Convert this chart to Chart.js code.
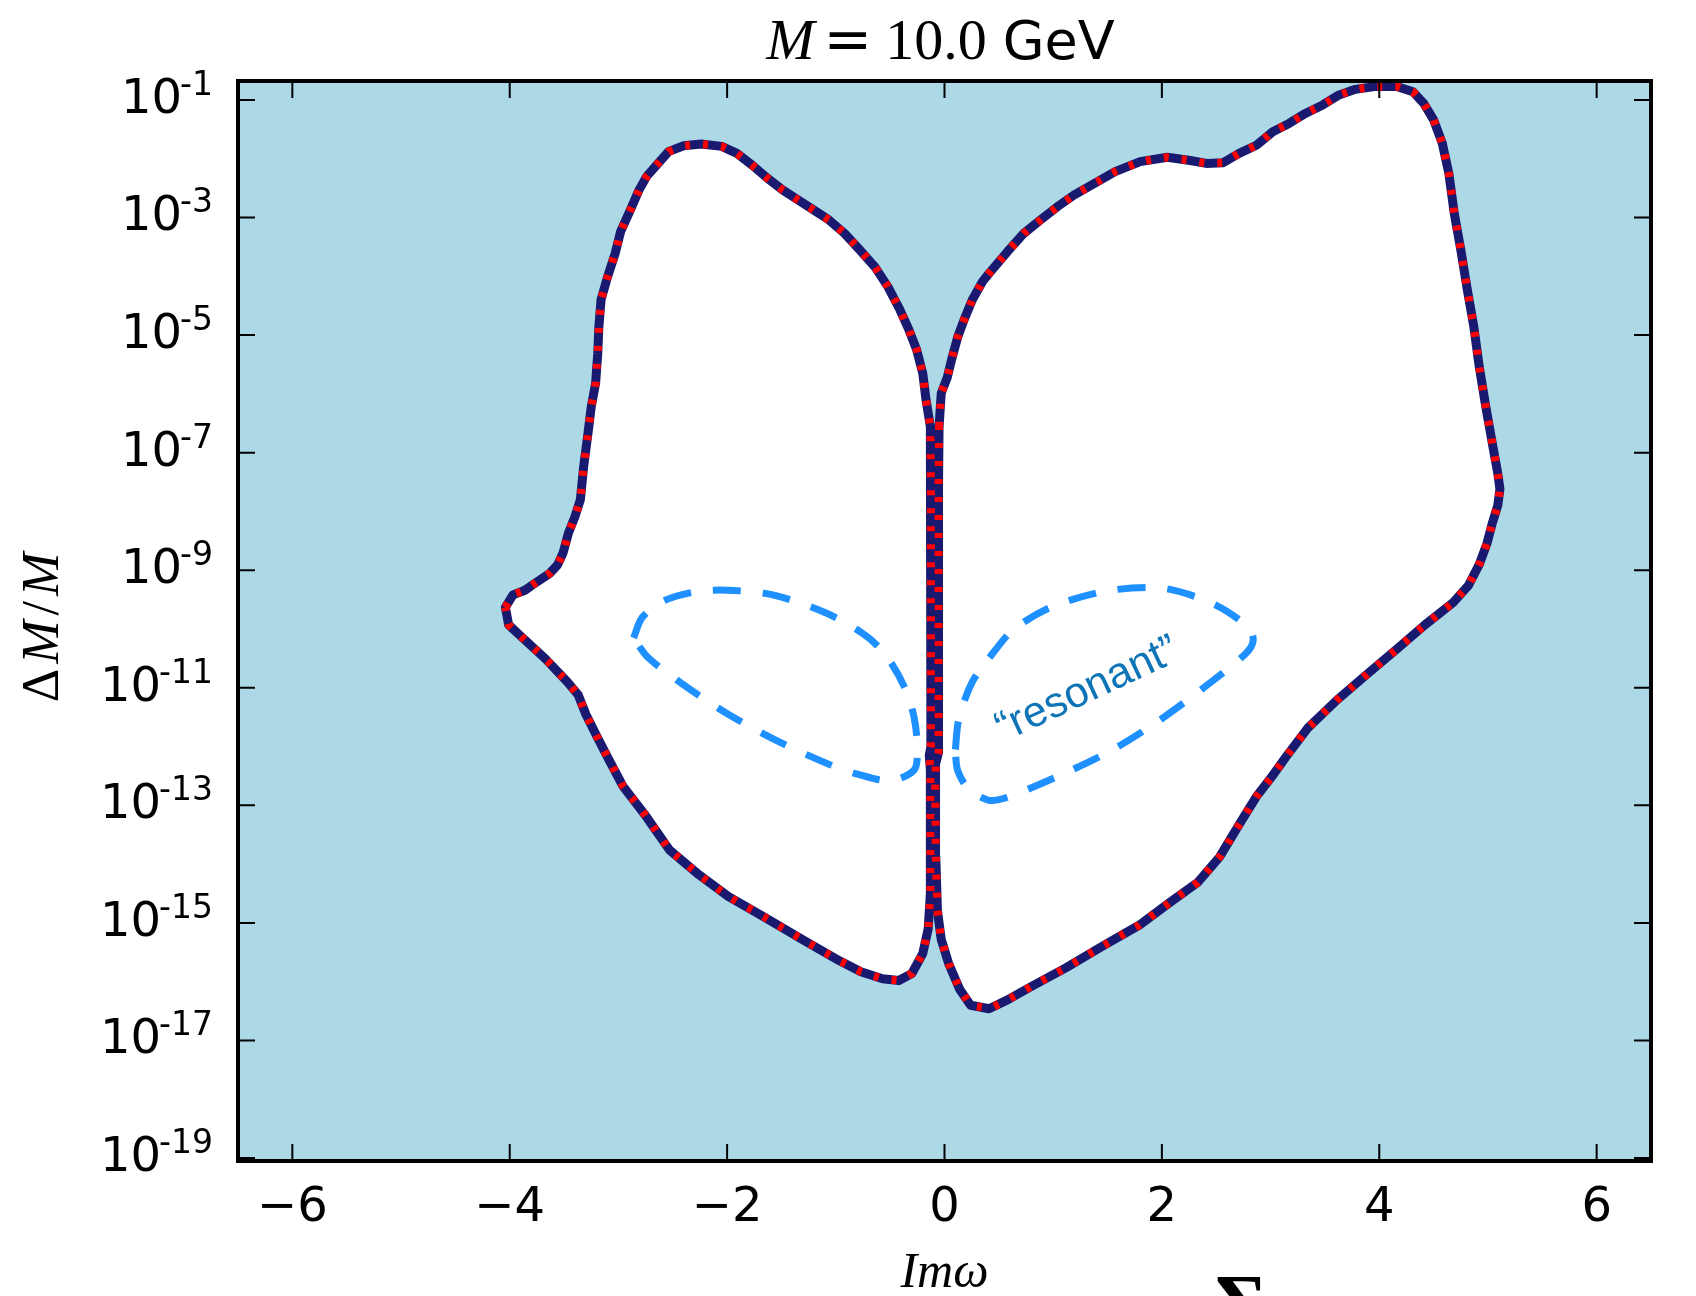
<!DOCTYPE html>
<html><head><meta charset="utf-8">
<script src="https://cdn.jsdelivr.net/npm/chart.js@4.4.1/dist/chart.umd.min.js"></script>
<style>html,body{margin:0;padding:0;background:#fff;}canvas{display:block;}</style>
</head><body>
<canvas id="c" width="1696" height="1296" style="width:1696px;height:1296px"></canvas>
<script>
// ---- data (x = Im ω, second value = log10(ΔM/M)) ----
const xTicks = [-6, -4, -2, 0, 2, 4, 6];
const yTickExponents = [-1, -3, -5, -7, -9, -11, -13, -15, -17, -19];

const leftLobe = [[-4.04,-9.63],[-3.97,-9.42],[-3.86,-9.34],[-3.79,-9.25],[-3.63,-9.05],[-3.56,-8.91],[-3.51,-8.71],[-3.46,-8.37],[-3.40,-8.09],[-3.35,-7.80],[-3.32,-7.24],[-3.28,-6.67],[-3.25,-6.22],[-3.21,-5.82],[-3.19,-5.31],[-3.18,-4.86],[-3.16,-4.40],[-3.10,-4.01],[-3.03,-3.61],[-2.98,-3.24],[-2.89,-2.87],[-2.81,-2.53],[-2.74,-2.30],[-2.65,-2.11],[-2.54,-1.88],[-2.40,-1.78],[-2.24,-1.75],[-2.05,-1.79],[-1.91,-1.91],[-1.77,-2.11],[-1.63,-2.33],[-1.49,-2.53],[-1.35,-2.70],[-1.205,-2.87],[-1.065,-3.04],[-0.92,-3.27],[-0.78,-3.55],[-0.64,-3.84],[-0.52,-4.18],[-0.41,-4.57],[-0.327,-4.91],[-0.256,-5.25],[-0.20,-5.65],[-0.17,-6.10],[-0.13,-6.56],[-0.125,-7.5],[-0.125,-9.0],[-0.125,-10.8],[-0.125,-12.0],[-0.14,-12.15],[-0.13,-12.4],[-0.13,-13.3],[-0.13,-14.5],[-0.15,-15.10],[-0.20,-15.52],[-0.30,-15.86],[-0.42,-15.98],[-0.57,-15.95],[-0.77,-15.83],[-0.97,-15.64],[-1.31,-15.28],[-1.65,-14.91],[-1.99,-14.55],[-2.26,-14.18],[-2.53,-13.76],[-2.76,-13.15],[-2.96,-12.67],[-3.10,-12.18],[-3.20,-11.82],[-3.30,-11.45],[-3.37,-11.12],[-3.47,-10.90],[-3.67,-10.51],[-3.87,-10.17],[-4.01,-9.93],[-4.04,-9.63]];

const rightLobe = [[-0.05,-6.56],[-0.03,-5.99],[0.027,-5.71],[0.065,-5.42],[0.122,-5.03],[0.18,-4.74],[0.256,-4.40],[0.35,-4.09],[0.41,-3.95],[0.58,-3.58],[0.73,-3.27],[0.885,-3.04],[1.036,-2.82],[1.19,-2.62],[1.38,-2.42],[1.57,-2.22],[1.80,-2.05],[2.05,-1.975],[2.26,-2.03],[2.41,-2.08],[2.56,-2.07],[2.71,-1.91],[2.87,-1.77],[3.02,-1.54],[3.17,-1.40],[3.32,-1.23],[3.48,-1.085],[3.63,-0.915],[3.78,-0.82],[3.97,-0.77],[4.16,-0.77],[4.31,-0.86],[4.41,-1.06],[4.50,-1.34],[4.58,-1.74],[4.64,-2.25],[4.69,-2.93],[4.75,-3.55],[4.81,-4.23],[4.87,-4.86],[4.92,-5.54],[4.98,-6.22],[5.04,-6.84],[5.09,-7.35],[5.11,-7.62],[5.09,-7.90],[5.04,-8.20],[4.99,-8.55],[4.92,-8.90],[4.82,-9.26],[4.68,-9.55],[4.42,-9.93],[4.15,-10.36],[3.88,-10.78],[3.61,-11.21],[3.34,-11.69],[3.14,-12.18],[3.00,-12.54],[2.87,-12.85],[2.73,-13.27],[2.53,-13.88],[2.33,-14.31],[2.06,-14.67],[1.79,-15.04],[1.45,-15.40],[1.12,-15.76],[0.78,-16.10],[0.58,-16.31],[0.41,-16.46],[0.24,-16.40],[0.14,-16.13],[0.04,-15.70],[-0.03,-15.28],[-0.065,-14.79],[-0.08,-13.88],[-0.085,-12.67],[-0.08,-12.3],[-0.055,-12.1],[-0.055,-10.8],[-0.055,-9.0],[-0.055,-7.5],[-0.05,-6.56]];

const resonantLeft = [[-2.86,-10.15],[-2.78,-9.80],[-2.58,-9.52],[-2.30,-9.37],[-2.00,-9.34],[-1.58,-9.42],[-1.10,-9.72],[-0.75,-10.08],[-0.55,-10.42],[-0.37,-10.98],[-0.28,-11.5],[-0.25,-12.05],[-0.28,-12.40],[-0.50,-12.58],[-0.80,-12.47],[-1.04,-12.32],[-1.51,-11.93],[-1.99,-11.45],[-2.40,-10.95],[-2.73,-10.48],[-2.86,-10.15]];

const resonantRight = [[0.10,-12.05],[0.13,-11.55],[0.25,-10.92],[0.45,-10.40],[0.64,-10.0],[0.99,-9.62],[1.50,-9.35],[2.02,-9.31],[2.48,-9.58],[2.80,-9.98],[2.84,-10.2],[2.77,-10.42],[2.42,-10.95],[1.98,-11.55],[1.55,-12.05],[1.05,-12.50],[0.55,-12.88],[0.40,-12.91],[0.22,-12.72],[0.12,-12.40],[0.10,-12.05]];

const yMinExp = -19.05, yMaxExp = -0.678;
const xMin = -6.5, xMax = 6.5;

// ---- build ----
const toPts = arr => arr.map(p => ({x: p[0], y: Math.pow(10, p[1])}));
const NAVY = '#191970', RED = '#FF0000', DODGER = '#1E90FF', BG = '#ADD8E6';

function lobe(arr, label) {
  return {label, data: toPts(arr), borderColor: NAVY, borderWidth: 9, backgroundColor: '#FFFFFF',
    fill: 'shape', pointRadius: 0, tension: 0, borderJoinStyle: 'round', borderCapStyle: 'round', order: 3};
}
function redDots(arr, label) {
  return {label, data: toPts(arr), borderColor: RED, borderWidth: 8, borderDash: [5, 13],
    fill: false, pointRadius: 0, tension: 0, borderCapStyle: 'butt', borderJoinStyle: 'miter', order: 2};
}
function resonant(arr, label) {
  return {label, data: toPts(arr), borderColor: DODGER, borderWidth: 7, borderDash: [28, 22],
    fill: false, pointRadius: 0, tension: 0.3, borderCapStyle: 'butt', borderJoinStyle: 'round', order: 1};
}

const datasets = [
  resonant(resonantLeft, 'resonant L'), resonant(resonantRight, 'resonant R'),
  redDots(leftLobe, 'contour L red'), redDots(rightLobe, 'contour R red'),
  lobe(leftLobe, 'contour L'), lobe(rightLobe, 'contour R')
];

const fmtX = v => (v < 0 ? '\u2212' + Math.abs(v) : String(v));

const decor = {
  id: 'decor',
  beforeDraw(chart) {
    const {ctx, chartArea: a} = chart;
    ctx.save();
    ctx.fillStyle = '#fff'; ctx.fillRect(0, 0, chart.width, chart.height);
    ctx.fillStyle = BG; ctx.fillRect(a.left, a.top, a.right - a.left, a.bottom - a.top);
    ctx.restore();
  },
  afterDatasetsDraw(chart) {
    const {ctx, chartArea: a} = chart;
    ctx.save();
    ctx.beginPath(); ctx.rect(a.left, a.top, a.right - a.left, a.bottom - a.top); ctx.clip();
    const xs = chart.scales.x, ys = chart.scales.y;
    const cx = xs.getPixelForValue(1.36), cy = ys.getPixelForValue(Math.pow(10, -11.22));
    ctx.translate(cx, cy); ctx.rotate(-25 * Math.PI / 180);
    ctx.fillStyle = '#0f75b7'; ctx.font = '43px "Liberation Sans"';
    ctx.textAlign = 'center'; ctx.textBaseline = 'alphabetic';
    ctx.fillText('\u201Cresonant\u201D', 0, 0);
    ctx.restore();
  },
  afterDraw(chart) {
    const {ctx, chartArea: a} = chart;
    const xs = chart.scales.x, ys = chart.scales.y;
    ctx.save();
    // ticks (inward, all four sides)
    ctx.strokeStyle = '#000'; ctx.lineWidth = 2;
    const TL = 17;
    ctx.beginPath();
    for (const t of xs.ticks) {
      const px = xs.getPixelForValue(t.value);
      ctx.moveTo(px, a.bottom); ctx.lineTo(px, a.bottom - TL);
      ctx.moveTo(px, a.top); ctx.lineTo(px, a.top + TL);
    }
    for (const t of ys.ticks) {
      const py = ys.getPixelForValue(t.value);
      ctx.moveTo(a.left, py); ctx.lineTo(a.left + TL, py);
      ctx.moveTo(a.right, py); ctx.lineTo(a.right - TL, py);
    }
    ctx.stroke();
    // spines
    ctx.lineWidth = 4; ctx.strokeRect(a.left, a.top, a.right - a.left, a.bottom - a.top);

    // y tick labels with superscripts
    ctx.fillStyle = '#000'; ctx.textAlign = 'left'; ctx.textBaseline = 'alphabetic';
    for (const e of yTickExponents) {
      const py = ys.getPixelForValue(Math.pow(10, e));
      ctx.font = '48px "DejaVu Sans"'; const wb = ctx.measureText('10').width;
      ctx.font = '33px "DejaVu Sans"'; const sup = String(e); const ws = ctx.measureText(sup).width;
      const right = a.left - 25;
      const x0 = right - wb - ws + 2;
      ctx.font = '48px "DejaVu Sans"'; ctx.fillText('10', x0, py + 13);
      ctx.font = '33px "DejaVu Sans"'; ctx.fillText(sup, x0 + wb - 2, py - 5);
    }

    // title
    const center = (a.left + a.right) / 2;
    const parts = [
      {t: 'M', f: 'italic 58px "Liberation Serif"', gap: 9},
      {t: '=', f: '58px "DejaVu Sans"', gap: 13},
      {t: '10.0', f: '58px "Liberation Serif"', gap: 16},
      {t: 'GeV', f: '54px "DejaVu Sans"', gap: 0}
    ];
    let total = 0;
    for (const p of parts) { ctx.font = p.f; p.w = ctx.measureText(p.t).width; total += p.w + p.gap; }
    let x = center - total / 2 - 4;
    for (const p of parts) { ctx.font = p.f; ctx.fillText(p.t, x, 59); x += p.w + p.gap; }

    // x axis label
    ctx.font = 'italic 50px "Liberation Serif"'; ctx.textAlign = 'center';
    ctx.fillText('Im\u03C9', center, 1287);

    // y axis label
    ctx.save();
    ctx.translate(58, (a.top + a.bottom) / 2);
    ctx.rotate(-Math.PI / 2);
    const yl = [
      {t: '\u0394', f: '52px "Liberation Serif"'},
      {t: 'M', f: 'italic 52px "Liberation Serif"'},
      {t: '/', f: '52px "Liberation Serif"'},
      {t: 'M', f: 'italic 52px "Liberation Serif"'}
    ];
    let yt = 0; const sp = 5;
    for (const p of yl) { ctx.font = p.f; p.w = ctx.measureText(p.t).width; yt += p.w + sp; }
    let yx = -yt / 2 - 4; ctx.textAlign = 'left';
    for (const p of yl) { ctx.font = p.f; ctx.fillText(p.t, yx, 0); yx += p.w + sp; }
    ctx.restore();

    // partially visible sigma at the bottom edge
    ctx.font = 'bold 80px "Liberation Serif"'; ctx.textAlign = 'center';
    ctx.fillText('\u03A3', 1241, 1330);
    ctx.restore();
  }
};

new Chart(document.getElementById('c'), {
  type: 'line',
  data: {datasets},
  options: {
    responsive: false, animation: false, devicePixelRatio: 1,
    layout: {padding: {top: 81, right: 45, left: 0, bottom: 0}},
    plugins: {legend: {display: false}, tooltip: {enabled: false}, title: {display: false},
      filler: {drawTime: 'beforeDatasetsDraw'}},
    scales: {
      x: {type: 'linear', min: xMin, max: xMax,
        afterBuildTicks: s => { s.ticks = xTicks.map(v => ({value: v})); },
        afterFit: s => { s.height = 135; },
        grid: {display: false}, border: {display: false},
        ticks: {font: {family: 'DejaVu Sans', size: 48}, color: '#000', padding: 11,
          maxRotation: 0, autoSkip: false, callback: v => fmtX(v)}},
      y: {type: 'logarithmic', min: Math.pow(10, yMinExp), max: Math.pow(10, yMaxExp),
        afterBuildTicks: s => { s.ticks = yTickExponents.map(e => ({value: Math.pow(10, e)})); },
        afterFit: s => { s.width = 238; },
        grid: {display: false}, border: {display: false}, ticks: {display: false}}
    }
  },
  plugins: [decor]
});
</script></body></html>
